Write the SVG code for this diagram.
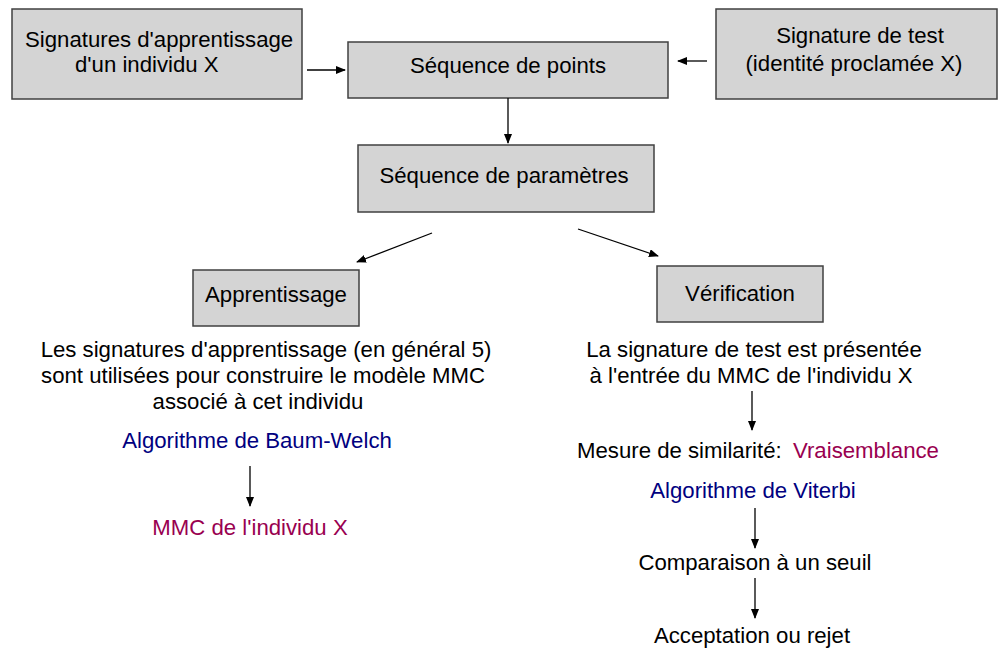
<svg xmlns="http://www.w3.org/2000/svg" width="998" height="649" viewBox="0 0 998 649">
<style>
.box{fill:#d4d4d4;stroke:#404040;stroke-width:1.5}
text{font-family:"Liberation Sans",Arial,sans-serif;font-size:22.2px;fill:#000}
.c{text-anchor:middle}
.blue{fill:#000080}
.red{fill:#990050}
.ln{stroke:#000;stroke-width:1.3;fill:none;marker-end:url(#ah)}
</style>
<defs>
<marker id="ah" markerWidth="10" markerHeight="8" refX="9" refY="4" orient="auto" markerUnits="userSpaceOnUse">
<path d="M0,0 L10,4 L0,8 z" fill="#000"/>
</marker>
</defs>
<rect width="998" height="649" fill="#fff"/>
<g id="n-signatures">
<rect class="box" x="12" y="9" width="290" height="90"/>
<text x="25" y="47">Signatures d'apprentissage</text>
<text x="75" y="72">d'un individu  X</text>
</g>
<g id="n-seqpoints">
<rect class="box" x="348" y="42" width="320" height="56"/>
<text class="c" x="508" y="73">Séquence de points</text>
</g>
<g id="n-test">
<rect class="box" x="716" y="9" width="281" height="90"/>
<text class="c" x="860" y="43">Signature de test</text>
<text class="c" x="854" y="71">(identité proclamée X)</text>
</g>
<g id="n-seqparam">
<rect class="box" x="358" y="145" width="296" height="67"/>
<text class="c" x="504" y="183">Séquence de paramètres</text>
</g>
<g id="n-apprentissage">
<rect class="box" x="193" y="270" width="166" height="56"/>
<text class="c" x="276" y="302">Apprentissage</text>
</g>
<g id="n-verification">
<rect class="box" x="657" y="266" width="166" height="56"/>
<text class="c" x="740" y="301">Vérification</text>
</g>
<g id="n-desc-left">
<text class="c" x="266" y="357">Les signatures d'apprentissage (en général 5)</text>
<text class="c" x="263" y="383">sont utilisées pour construire le modèle MMC</text>
<text class="c" x="258" y="409">associé à cet individu</text>
</g>
<g id="n-baum"><text class="c blue" x="257" y="448">Algorithme de Baum-Welch</text></g>
<g id="n-mmc"><text class="c red" x="250" y="535">MMC de l'individu X</text></g>
<g id="n-desc-right">
<text class="c" x="754" y="357">La signature de test est présentée</text>
<text class="c" x="751" y="383">à l'entrée du MMC de l'individu X</text>
</g>
<g id="n-mesure">
<text x="577" y="458">Mesure de similarité:</text>
<text class="red" x="793" y="458">Vraisemblance</text>
</g>
<g id="n-viterbi"><text class="c blue" x="753" y="498">Algorithme de Viterbi</text></g>
<g id="n-comparaison"><text class="c" x="755" y="570">Comparaison à un seuil</text></g>
<g id="n-acceptation"><text class="c" x="752" y="643">Acceptation ou rejet</text></g>
<g id="connectors">
<line class="ln" x1="307" y1="70" x2="345" y2="70"/>
<line class="ln" x1="707" y1="61" x2="678" y2="61"/>
<line class="ln" x1="508" y1="98" x2="508" y2="143"/>
<line class="ln" x1="432" y1="233" x2="357" y2="262"/>
<line class="ln" x1="578" y1="229" x2="658" y2="256"/>
<line class="ln" x1="250" y1="466" x2="250" y2="506"/>
<line class="ln" x1="752" y1="391" x2="752" y2="430"/>
<line class="ln" x1="755" y1="508" x2="755" y2="548"/>
<line class="ln" x1="755" y1="578" x2="755" y2="618"/>
</g>
</svg>
